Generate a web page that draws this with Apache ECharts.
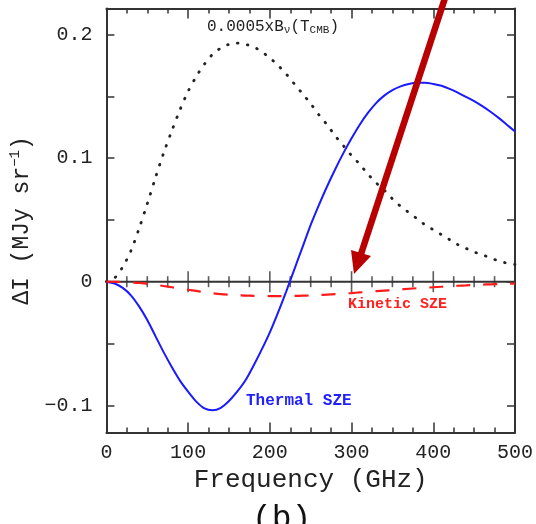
<!DOCTYPE html>
<html>
<head>
<meta charset="utf-8">
<script src="https://cdn.jsdelivr.net/npm/echarts@6/dist/echarts.min.js"></script>
<style>html,body{margin:0;padding:0;background:#fff;}#c{width:536px;height:524px;}</style>
</head>
<body>
<div id="c"></div>
<script>
// Frequency grid (GHz)
const freq = [0,10,20,30,40,50,60,70,80,90,100,110,120,130,140,150,160,170,180,190,200,210,220,230,240,250,260,270,280,290,300,310,320,330,340,350,360,370,380,390,400,410,420,430,440,450,460,470,480,490,500];
// 0.0005 x B_nu(T_CMB)
const cmb = [0,0.003,0.012,0.025,0.043,0.063,0.084,0.104,0.122,0.139,0.154,0.166,0.176,0.184,0.189,0.192,0.193,0.192,0.190,0.186,0.181,0.175,0.168,0.160,0.152,0.144,0.135,0.127,0.118,0.110,0.102,0.095,0.087,0.080,0.074,0.067,0.061,0.056,0.051,0.046,0.042,0.038,0.034,0.030,0.027,0.024,0.022,0.019,0.017,0.015,0.014];
// Thermal SZE
const thermal = [0,-0.0015,-0.005,-0.011,-0.020,-0.031,-0.044,-0.057,-0.069,-0.080,-0.089,-0.097,-0.1025,-0.104,-0.102,-0.0965,-0.089,-0.080,-0.068,-0.055,-0.041,-0.025,-0.008,0.010,0.028,0.046,0.062,0.077,0.091,0.104,0.116,0.127,0.1365,0.1445,0.1505,0.155,0.158,0.160,0.161,0.161,0.160,0.1585,0.156,0.153,0.1495,0.146,0.142,0.1375,0.1325,0.127,0.1215];
// Kinetic SZE
const kinetic = [0,-0.0001,-0.0003,-0.0006,-0.001,-0.0017,-0.0025,-0.0035,-0.0045,-0.0055,-0.0065,-0.0075,-0.0085,-0.0093,-0.0100,-0.0105,-0.0109,-0.0112,-0.0114,-0.0115,-0.0116,-0.0116,-0.0116,-0.0115,-0.0113,-0.0111,-0.0108,-0.0104,-0.0100,-0.0096,-0.0092,-0.0087,-0.0082,-0.0077,-0.0072,-0.0067,-0.0062,-0.0057,-0.0053,-0.0049,-0.0045,-0.0041,-0.0037,-0.0033,-0.0030,-0.0027,-0.0024,-0.0021,-0.0019,-0.0017,-0.0015];
// Axis ticks
const yTickValues = [-0.1,-0.05,0,0.05,0.1,0.15,0.2];
const yLabelValues = [-0.1,0,0.1,0.2];
const zeroMajorTicks = [100,200,300,400];
const zeroMinorTicks = [25,50,75,125,150,175,225,250,275,325,350,375,425,450,475];

const FONT = 'Liberation Mono';
const FRAME = '#333';

const chart = echarts.init(document.getElementById('c'), null, {renderer:'canvas'});
const pair = arr => freq.map((f,i)=>[f, arr[i]]);

const xCommon = {
  type:'value', min:0, max:500, interval:100,
  axisLine:{show:true, onZero:false, lineStyle:{color:FRAME, width:2}},
  axisTick:{show:true, inside:true, length:10, lineStyle:{color:FRAME, width:1.5}},
  minorTick:{show:true, splitNumber:4, length:5, lineStyle:{color:FRAME, width:1.5}},
  splitLine:{show:false}, minorSplitLine:{show:false}
};
const yCommon = {
  type:'value', min:-0.122, max:0.221,
  axisLine:{show:true, onZero:false, lineStyle:{color:FRAME, width:2}},
  axisTick:{show:true, inside:true, length:8, customValues:yTickValues, lineStyle:{color:FRAME, width:1.5}},
  splitLine:{show:false}
};

chart.setOption({
  animation:false,
  backgroundColor:'#fff',
  grid:{left:98, right:18, top:8.5, bottom:91.5},
  xAxis:[
    Object.assign({}, xCommon, {
      position:'bottom',
      axisLabel:{show:true, fontFamily:FONT, fontSize:20, color:'#222', margin:10},
      name:'Frequency (GHz)', nameLocation:'middle', nameGap:34,
      nameTextStyle:{fontFamily:FONT, fontSize:26, color:'#222'}
    }),
    Object.assign({}, xCommon, {position:'top', axisLabel:{show:false}})
  ],
  yAxis:[
    Object.assign({}, yCommon, {
      position:'left',
      axisLabel:{show:true, customValues:yLabelValues, fontFamily:FONT, fontSize:20, color:'#222', margin:14,
        formatter: v => v === 0 ? '0' : (v < 0 ? '\u2212' + String(-v) : String(v))},
      name:'\u0394I (MJy sr{sup|\u22121})', nameLocation:'middle', nameGap:52, nameRotate:90,
      nameTextStyle:{fontFamily:FONT, fontSize:23, color:'#222',
        rich:{sup:{fontFamily:FONT, fontSize:14, color:'#222', verticalAlign:'top', padding:[0,0,14,0]}}}
    }),
    Object.assign({}, yCommon, {position:'right', axisLabel:{show:false}})
  ],
  series:[
    {type:'line', name:'zero', data:[[0,0],[500,0]], showSymbol:false, lineStyle:{color:FRAME, width:2}, z:3, silent:true},
    {type:'scatter', name:'zeroMajor', data:zeroMajorTicks.map(v=>[v,0]), symbol:'rect', symbolSize:[1.6,21], itemStyle:{color:FRAME}, z:3, silent:true},
    {type:'scatter', name:'zeroMinor', data:zeroMinorTicks.map(v=>[v,0]), symbol:'rect', symbolSize:[1.6,11], itemStyle:{color:FRAME}, z:3, silent:true},
    {type:'line', name:'CMB', data:pair(cmb), smooth:0.3, showSymbol:false,
      lineStyle:{color:'#222', width:2.8, type:[0.6,9.5], cap:'round'}, z:4},
    {type:'line', name:'Thermal SZE', data:pair(thermal), smooth:0.3, showSymbol:false,
      lineStyle:{color:'#1a1aff', width:2}, z:5},
    {type:'line', name:'Kinetic SZE', data:pair(kinetic), smooth:0.3, showSymbol:false,
      lineStyle:{color:'#ff1a1a', width:2.2, type:[14,13]}, z:6}
  ],
  graphic:[
    {type:'text', left:207, top:19, z:10,
      style:{text:'0.0005xB{sub|\u03bd}(T{sub|CMB})', fontFamily:FONT, fontSize:16, fill:'#222',
        rich:{sub:{fontFamily:FONT, fontSize:11, fill:'#222', verticalAlign:'bottom', padding:[6,0,0,0]}}}},
    {type:'text', left:348, top:297, z:10,
      style:{text:'Kinetic SZE', fontFamily:FONT, fontSize:15, fontWeight:'bold', fill:'#ff2020'}},
    {type:'text', left:246, top:393, z:10,
      style:{text:'Thermal SZE', fontFamily:FONT, fontSize:16, fontWeight:'bold', fill:'#2020ff'}},
    {type:'text', left:252, top:503, z:10,
      style:{text:'(b)', fontFamily:FONT, fontSize:33, fill:'#111'}},
    {type:'line', z:20, shape:{x1:446, y1:-5, x2:361, y2:254}, style:{stroke:'#b80000', lineWidth:6.5}},
    {type:'polygon', z:20, shape:{points:[[354,274],[371,256],[351,250]]}, style:{fill:'#b80000'}}
  ]
});
</script>
</body>
</html>
